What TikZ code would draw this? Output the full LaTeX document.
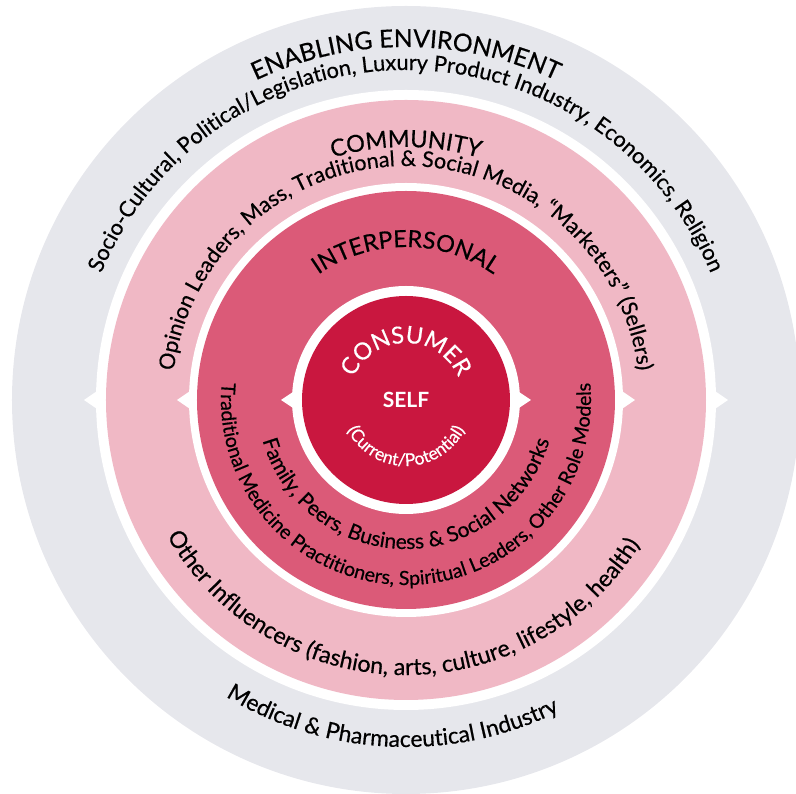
\documentclass[tikz,border=0pt]{standalone}
\usepackage{fontspec}
\setmainfont{Lato}
\newfontfamily\ringfamily{Lato}[FakeBold=0.5]
\usepackage{tikz}
\usetikzlibrary{decorations.text}
\definecolor{envgrey}{HTML}{E6E7EC}
\definecolor{commpink}{HTML}{F0B8C5}
\definecolor{interpink}{HTML}{DB5A78}
\definecolor{selfred}{HTML}{C9173F}
\newcommand\ringfont[1]{\ringfamily\fontsize{#1}{#1}\selectfont}
\newcommand\headfont{\ringfamily\fontsize{23.5}{26}\selectfont}
\newcommand\bigheadfont{\ringfamily\fontsize{24.7}{27}\selectfont}

\begin{document}
\begin{tikzpicture}[x=1pt,y=1pt,
		ringtext/.style={decorate, decoration={text along path, text align=center, text={#1}}},
		whitetext/.style={decorate, decoration={text along path, text align=center, text color=white, text={#1}}}]
	\useasboundingbox (-406,-394) rectangle (390,400);
	% rings
	\fill[envgrey] (0,0) circle[radius=394];
	\fill[white] (0,0) circle[radius=310];
	\fill[white] (-322,0) -- (-306,11) -- (-306,-11) -- cycle;
	\fill[white] (322,0) -- (306,11) -- (306,-11) -- cycle;
	\fill[commpink] (0,0) circle[radius=300];
	\fill[white] (0,0) circle[radius=217];
	\fill[white] (-229,0) -- (-213,11) -- (-213,-11) -- cycle;
	\fill[white] (229,0) -- (213,11) -- (213,-11) -- cycle;
	\fill[interpink] (0,0) circle[radius=209];
	\fill[white] (0,0) circle[radius=114];
	\fill[white] (-125,0) -- (-110,10) -- (-110,-10) -- cycle;
	\fill[white] (125,0) -- (110,10) -- (110,-10) -- cycle;
	\node[circle, fill=selfred, minimum size=208pt, inner sep=0pt] (self) at (0,0) {};
	\node[text=white] (selflabel) at (self.center) {\fontsize{21}{24}\selectfont\bfseries SELF};
	% top labels
	\path[ringtext={|\bigheadfont|ENABLING ENVIRONMENT}] (175:353) arc[start angle=175, end angle=5, radius=353];
	\path[ringtext={|\ringfont{21.8}|Socio-Cultural, Political/Legislation, Luxury Product Industry, Economics, Religion}]
		(178:330) arc[start angle=178, end angle=2, radius=330];
	\path[ringtext={|\headfont|COMMUNITY}] (175:253) arc[start angle=175, end angle=5, radius=253];
	\path[ringtext={|\ringfont{21.6}|Opinion Leaders, Mass, Traditional {\&} Social Media, “Marketers” (Sellers)}]
		(186:234) arc[start angle=186, end angle=-6, radius=234];
	\path[ringtext={|\headfont|INTERPERSONAL}] (175:153) arc[start angle=175, end angle=5, radius=153];
	\path[whitetext={|\headfont|CONSUMER}] (175:57) arc[start angle=175, end angle=5, radius=57];
	% bottom labels
	\path[whitetext={|\ringfont{17.5}|(Current/Potential)}] (185:66) arc[start angle=185, end angle=355, radius=66];
	\path[ringtext={|\ringfont{20.9}|Family, Peers, Business {\&} Social Networks}]
		(180:149) arc[start angle=180, end angle=360, radius=149];
	\path[ringtext={|\ringfont{19.6}|Traditional Medicine Practitioners, Spiritual Leaders, Other Role Models}]
		(165:185) arc[start angle=165, end angle=375, radius=185];
	\path[ringtext={|\ringfont{23.2}|Other Influencers (fashion, arts, culture, lifestyle, health)}]
		(185:275) arc[start angle=185, end angle=353, radius=275];
	\path[ringtext={|\ringfont{22.8}|Medical {\&} Pharmaceutical Industry}]
		(214:347) arc[start angle=214, end angle=321, radius=347];
\end{tikzpicture}
\end{document}
